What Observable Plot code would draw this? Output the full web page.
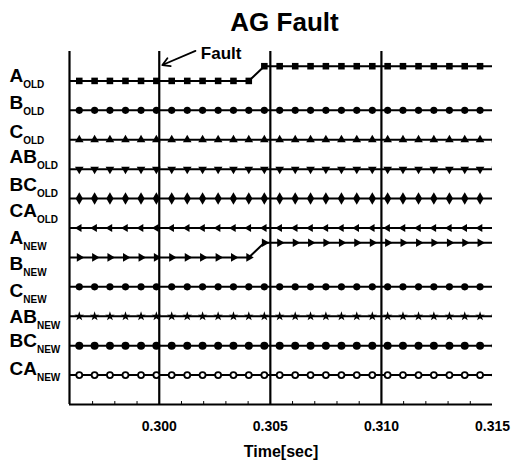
<!DOCTYPE html>
<html><head><meta charset="utf-8">
<script src="https://cdn.jsdelivr.net/npm/d3@7"></script>
<script src="https://cdn.jsdelivr.net/npm/@observablehq/plot@0.6"></script>
<style>body{margin:0;background:#fff;} svg{display:block}</style>
</head><body><div id="chart"></div>
<script>
const title = "AG Fault";
const xLabel = "Time[sec]";
const faultText = "Fault";
const xDomain = [0.29596, 0.315];
const xTicks = [0.300, 0.305, 0.310, 0.315];
const faultLines = [0.300, 0.305, 0.310];
const minorTicks = [0.297, 0.298, 0.299, 0.301, 0.302, 0.303, 0.304, 0.306, 0.307, 0.308, 0.309, 0.311, 0.312, 0.313, 0.314];
const times = [0.29571, 0.29640, 0.29709, 0.29778, 0.29848, 0.29918, 0.29987, 0.30056, 0.30126, 0.30195,
  0.30265, 0.30334, 0.30403, 0.30473, 0.30542, 0.30612, 0.30681, 0.30750, 0.30820, 0.30889,
  0.30959, 0.31028, 0.31097, 0.31167, 0.31236, 0.31306, 0.31375, 0.31444, 0.31514];

const labelMain = ["A","B","C","AB","BC","CA","A","B","C","AB","BC","CA"];
const labelSub = ["OLD","OLD","OLD","OLD","OLD","OLD","NEW","NEW","NEW","NEW","NEW","NEW"];
const labelLevels = [10.97, 10.05, 9.07, 8.22, 7.27, 6.36, 5.47, 4.56, 3.64, 2.76, 1.95, 1.0];

// digital states (0 = normal, 1 = operated)
const S_A_OLD  = [0,0,0,0,0,0,0,0,0,0,0,0,0,1,1,1,1,1,1,1,1,1,1,1,1,1,1,1,1];
const S_B_OLD  = [0,0,0,0,0,0,0,0,0,0,0,0,0,0,0,0,0,0,0,0,0,0,0,0,0,0,0,0,0];
const S_C_OLD  = [0,0,0,0,0,0,0,0,0,0,0,0,0,0,0,0,0,0,0,0,0,0,0,0,0,0,0,0,0];
const S_AB_OLD = [0,0,0,0,0,0,0,0,0,0,0,0,0,0,0,0,0,0,0,0,0,0,0,0,0,0,0,0,0];
const S_BC_OLD = [0,0,0,0,0,0,0,0,0,0,0,0,0,0,0,0,0,0,0,0,0,0,0,0,0,0,0,0,0];
const S_CA_OLD = [0,0,0,0,0,0,0,0,0,0,0,0,0,0,0,0,0,0,0,0,0,0,0,0,0,0,0,0,0];
const S_A_NEW  = [0,0,0,0,0,0,0,0,0,0,0,0,0,1,1,1,1,1,1,1,1,1,1,1,1,1,1,1,1];
const S_C_NEW  = [0,0,0,0,0,0,0,0,0,0,0,0,0,0,0,0,0,0,0,0,0,0,0,0,0,0,0,0,0];
const S_AB_NEW = [0,0,0,0,0,0,0,0,0,0,0,0,0,0,0,0,0,0,0,0,0,0,0,0,0,0,0,0,0];
const S_BC_NEW = [0,0,0,0,0,0,0,0,0,0,0,0,0,0,0,0,0,0,0,0,0,0,0,0,0,0,0,0,0];
const S_CA_NEW = [0,0,0,0,0,0,0,0,0,0,0,0,0,0,0,0,0,0,0,0,0,0,0,0,0,0,0,0,0];

const seriesNames  = ["A_OLD","B_OLD","C_OLD","AB_OLD","BC_OLD","CA_OLD","A_NEW","C_NEW","AB_NEW","BC_NEW","CA_NEW"];
const seriesStates = [S_A_OLD,S_B_OLD,S_C_OLD,S_AB_OLD,S_BC_OLD,S_CA_OLD,S_A_NEW,S_C_NEW,S_AB_NEW,S_BC_NEW,S_CA_NEW];
const seriesLevels = [11,10,9,8,7,6,5,4,3,2,1];
const stepHeight = 0.5;

function tri(angleDeg) {
  return {draw(ctx, size) {
    const R = Math.sqrt(size * 4 / (3 * Math.sqrt(3)));
    for (let k = 0; k < 3; k++) {
      const a = (angleDeg + 120 * k) * Math.PI / 180;
      const x = R * Math.cos(a), y = R * Math.sin(a);
      k ? ctx.lineTo(x, y) : ctx.moveTo(x, y);
    }
    ctx.closePath();
  }};
}
const seriesStyle = [
  {symbol: "square", r: 3.7, fill: "black"},
  {symbol: "circle", r: 3.6, fill: "black"},
  {symbol: tri(-90), r: 3.2, fill: "black"},
  {symbol: tri(90), r: 3.2, fill: "black"},
  {symbol: "diamond", r: 3.8, fill: "black"},
  {symbol: tri(180), r: 2.9, fill: "black"},
  {symbol: tri(0), r: 3.2, fill: "black"},
  {symbol: "circle", r: 3.6, fill: "black"},
  {symbol: "star", r: 3.0, fill: "black"},
  {symbol: "circle", r: 4.0, fill: "black"},
  {symbol: "circle", r: 3.0, fill: "white", stroke: "black"}
];

const seriesMarks = [];
seriesNames.forEach((name, s) => {
  const rows = times.map((t, i) => ({t, y: seriesLevels[s] + seriesStates[s][i] * stepHeight}));
  const st = seriesStyle[s];
  seriesMarks.push(Plot.line(rows, {x: "t", y: "y", stroke: "black", strokeWidth: 2, clip: true}));
  seriesMarks.push(Plot.dot(rows, {x: "t", y: "y", symbol: st.symbol, r: st.r, fill: st.fill,
    stroke: st.stroke || "none", strokeWidth: 1.8, clip: true}));
});

const labels = labelMain.map((m, i) => ({m, sub: labelSub[i], y: labelLevels[i]}));

const chart = Plot.plot({
  width: 511, height: 461,
  marginLeft: 69, marginRight: 19, marginTop: 51, marginBottom: 57,
  style: {fontFamily: "'Liberation Sans', Arial, sans-serif", fontWeight: "bold", background: "white", color: "black"},
  x: {domain: xDomain},
  y: {domain: [0, 12], axis: null},
  marks: [
    Plot.ruleX(faultLines, {stroke: "black", strokeWidth: 2.2}),
    Plot.ruleX([xDomain[0]], {stroke: "black", strokeWidth: 2.2}),
    Plot.ruleY([0], {stroke: "black", strokeWidth: 2.2}),
    Plot.ruleX(minorTicks, {y1: 0, y2: 0.1, stroke: "black", strokeWidth: 1}),
    ...seriesMarks,
    Plot.axisX(xTicks, {tickFormat: d3.format(".3f"), tickSize: 0, tickPadding: 17, fontSize: 14, fontWeight: "bold", label: null}),
    Plot.text([xLabel], {frameAnchor: "bottom", dy: 52, lineAnchor: "bottom", fontSize: 16, fontWeight: "bold"}),
    Plot.text([title], {frameAnchor: "top", dy: -21, dx: 3.5, lineAnchor: "bottom", fontSize: 26, fontWeight: "bold"}),
    Plot.arrow([{x1: 0.30163, y1: 12.02, x2: 0.30014, y2: 11.54}], {x1: "x1", y1: "y1", x2: "x2", y2: "y2", stroke: "black", strokeWidth: 1.8, headLength: 7}),
    Plot.text([faultText], {x: [0.30187], y: [11.76], textAnchor: "start", lineAnchor: "bottom", fontSize: 17, fontWeight: "bold"}),
    Plot.text(labels, {y: "y", text: "m", frameAnchor: "left", dx: -60, textAnchor: "start", lineAnchor: "bottom", fontSize: 19, fontWeight: "bold",
      render(index, scales, values, dimensions, context, next) {
        const g = next(index, scales, values, dimensions, context);
        d3.select(g).selectAll("text").each(function(_, j) {
          const i = index[j];
          d3.select(this).append("tspan").attr("dy", 6).attr("font-size", 10).text(labels[i].sub);
        });
        return g;
      }})
  ]
});
document.getElementById("chart").appendChild(chart);
</script>
</body></html>
